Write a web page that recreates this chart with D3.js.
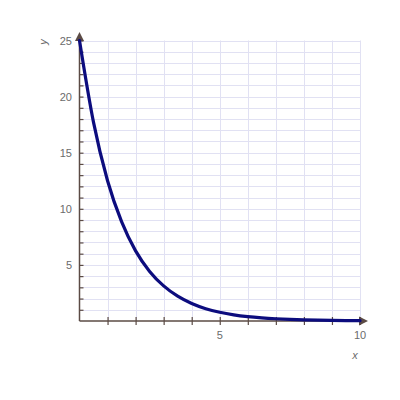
<!DOCTYPE html>
<html>
<head>
<meta charset="utf-8">
<script src="https://cdn.jsdelivr.net/npm/d3@7"></script>
<style>
  body { margin: 0; background: #fff; }
  text { font-family: "Liberation Sans", Arial, sans-serif; }
</style>
</head>
<body>
<svg width="400" height="400"></svg>
<script>
// points
var xs = [0, 0.5, 1, 1.5, 2, 2.5, 3, 3.5, 4, 4.5, 5, 5.5, 6, 6.5, 7, 7.5, 8, 8.5, 9, 9.5, 10];
var ys = [25, 17.7, 12.5, 8.85, 6.25, 4.42, 3.13, 2.21, 1.56, 1.1, 0.78, 0.55, 0.39, 0.28, 0.2, 0.14, 0.1, 0.07, 0.05, 0.035, 0.025];
var xTickLabels = [5, 10];
var yTickLabels = [5, 10, 15, 20, 25];

var svg = d3.select("svg");
var x = d3.scaleLinear().domain([0, 10]).range([79.5, 360]);
var y = d3.scaleLinear().domain([0, 25]).range([321, 40.5]);
var axisCol = "#5b4b45";

// grid
var grid = svg.append("g").attr("class", "grid")
	.attr("stroke", "#e1e1f3").attr("stroke-width", 1);
grid.selectAll("line.v").data(d3.range(1, 11)).enter().append("line")
	.attr("x1", function(d){return Math.round(x(d)) + 0.5})
	.attr("x2", function(d){return Math.round(x(d)) + 0.5})
	.attr("y1", y(0)).attr("y2", y(25));
grid.selectAll("line.h").data(d3.range(1, 26)).enter().append("line")
	.attr("y1", function(d){return Math.round(y(d)) + 0.5})
	.attr("y2", function(d){return Math.round(y(d)) + 0.5})
	.attr("x1", x(0)).attr("x2", x(10));

// axes
var xAxis = d3.axisBottom(x).tickValues(d3.range(1, 11)).tickSizeInner(4).tickSizeOuter(0).tickFormat("");
var gx = svg.append("g").attr("transform", "translate(0," + y(0) + ")").call(xAxis);
gx.select(".domain").remove();
gx.selectAll(".tick line").attr("y1", -4).attr("stroke", axisCol).attr("stroke-width", 1.2);

var yAxis = d3.axisLeft(y).tickValues(d3.range(1, 26)).tickSizeInner(4).tickSizeOuter(0).tickFormat("");
var gy = svg.append("g").attr("transform", "translate(" + x(0) + ",0)").call(yAxis);
gy.select(".domain").remove();
gy.selectAll(".tick line").attr("x2", 4).attr("stroke", axisCol).attr("stroke-width", 1.2);

svg.append("line").attr("x1", x(0)).attr("x2", 362).attr("y1", y(0)).attr("y2", y(0))
	.attr("stroke", axisCol).attr("stroke-width", 1.5);
svg.append("line").attr("x1", x(0)).attr("x2", x(0)).attr("y1", y(0)).attr("y2", 38)
	.attr("stroke", axisCol).attr("stroke-width", 1.5);
svg.append("path").attr("d", "M368," + y(0) + " l-9,-4.5 l0,9 z").attr("fill", axisCol);
svg.append("path").attr("d", "M" + x(0) + ",32 l-4.5,9 l9,0 z").attr("fill", axisCol);

// tick labels
svg.selectAll("text.xl").data(xTickLabels).enter().append("text")
	.attr("class", "xl")
	.attr("x", function(d){return x(d)})
	.attr("y", 339)
	.attr("text-anchor", "middle")
	.attr("font-size", 11).attr("fill", "#6b6b6b")
	.text(function(d){return d});
svg.selectAll("text.yl").data(yTickLabels).enter().append("text")
	.attr("class", "yl")
	.attr("x", 72)
	.attr("y", function(d){return y(d) + 4})
	.attr("text-anchor", "end")
	.attr("font-size", 11).attr("fill", "#6b6b6b")
	.text(function(d){return d});

svg.append("text").attr("x", 355).attr("y", 359)
	.attr("text-anchor", "middle").attr("font-size", 11).attr("font-style", "italic")
	.attr("fill", "#6b6b6b").text("x");
svg.append("text").attr("transform", "translate(47,42) rotate(-90)")
	.attr("text-anchor", "middle").attr("font-size", 11).attr("font-style", "italic")
	.attr("fill", "#6b6b6b").text("y");

// curve
var pts = xs.map(function(d, i){return [d, ys[i]]});
svg.append("path").datum(pts)
	.attr("fill", "none").attr("stroke", "#0c0c7e").attr("stroke-width", 3.2)
	.attr("stroke-linecap", "round")
	.attr("d", d3.line().x(function(d){return x(d[0])}).y(function(d){return y(d[1])}).curve(d3.curveMonotoneX));
</script>
</body>
</html>
